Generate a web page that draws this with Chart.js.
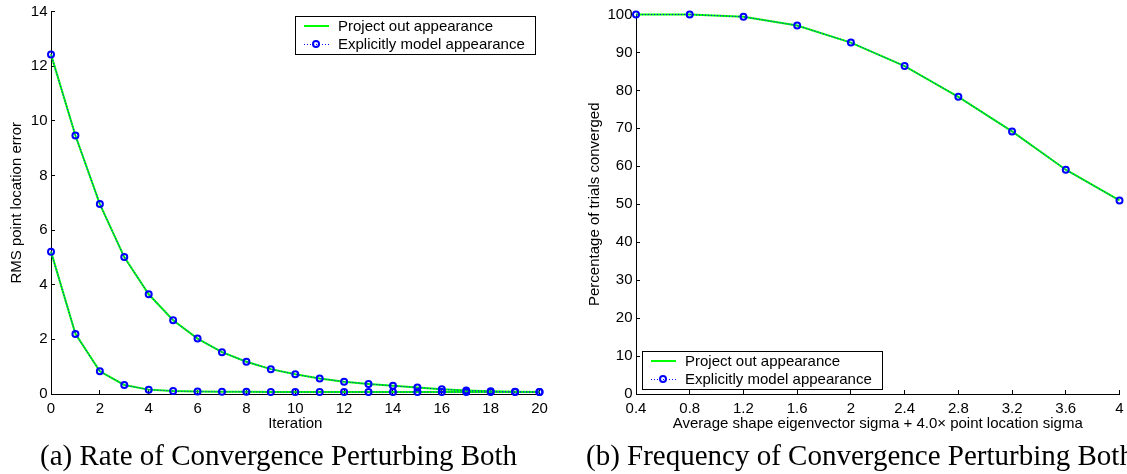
<!DOCTYPE html>
<html>
<head>
<meta charset="utf-8">
<script src="https://cdn.jsdelivr.net/npm/chart.js@4.4.1/dist/chart.umd.min.js"></script>
<style>
  html, body { margin: 0; padding: 0; background: #fff; width: 1127px; height: 474px; overflow: hidden; }
  .wrap { position: absolute; top: 0; height: 440px; }
  #w1 { left: 0; width: 563px; }
  #w2 { left: 563px; width: 564px; }
  .cap { position: absolute; top: 441px; font-family: "Liberation Serif", "Times New Roman", serif; font-size: 29px; line-height: 29px; white-space: nowrap; color: #000; }
</style>
</head>
<body>
<div class="wrap" id="w1"><canvas id="c1" width="563" height="440"></canvas></div>
<div class="wrap" id="w2"><canvas id="c2" width="564" height="440"></canvas></div>
<div class="cap" id="cap1" style="left:40px;"></div>
<div class="cap" id="cap2" style="left:586px;"></div>
<script>
// ---------- data ----------
const seriesLabels = ['Project out appearance', 'Explicitly model appearance'];

// (a) rate of convergence
const iterations = [0, 1, 2, 3, 4, 5, 6, 7, 8, 9, 10, 11, 12, 13, 14, 15, 16, 17, 18, 19, 20];
const rmsProjectOutLarge = [12.43, 9.46, 6.95, 5.01, 3.65, 2.70, 2.03, 1.53, 1.18, 0.91, 0.72, 0.57, 0.45, 0.37, 0.30, 0.24, 0.17, 0.13, 0.10, 0.08, 0.07];
const rmsExplicitLarge   = [12.43, 9.46, 6.95, 5.01, 3.65, 2.70, 2.03, 1.53, 1.18, 0.91, 0.72, 0.57, 0.45, 0.37, 0.30, 0.24, 0.17, 0.13, 0.10, 0.08, 0.07];
const rmsProjectOutSmall = [5.21, 2.20, 0.83, 0.33, 0.16, 0.11, 0.09, 0.08, 0.08, 0.07, 0.07, 0.07, 0.07, 0.07, 0.07, 0.07, 0.07, 0.07, 0.07, 0.07, 0.07];
const rmsExplicitSmall   = [5.21, 2.20, 0.83, 0.33, 0.16, 0.11, 0.09, 0.08, 0.08, 0.07, 0.07, 0.07, 0.07, 0.07, 0.07, 0.07, 0.07, 0.07, 0.07, 0.07, 0.07];

// (b) frequency of convergence
const sigmaValues = [0.4, 0.8, 1.2, 1.6, 2.0, 2.4, 2.8, 3.2, 3.6, 4.0];
const sigmaTickLabels = ['0.4', '0.8', '1.2', '1.6', '2', '2.4', '2.8', '3.2', '3.6', '4'];
const pctProjectOut = [100, 100, 99.4, 97.1, 92.6, 86.4, 78.3, 69.2, 59.1, 51.0];
const pctExplicit   = [100, 100, 99.4, 97.1, 92.6, 86.4, 78.3, 69.2, 59.1, 51.0];

const captionA = '(a) Rate of Convergence Perturbing Both';
const captionB = '(b) Frequency of Convergence Perturbing Both';
const xTitleA = 'Iteration';
const yTitleA = 'RMS point location error';
const xTitleB = 'Average shape eigenvector sigma + 4.0\u00d7 point location sigma';
const yTitleB = 'Percentage of trials converged';

document.getElementById('cap1').textContent = captionA;
document.getElementById('cap2').textContent = captionB;

// ---------- styling ----------
const FONT = '"Liberation Sans", Arial, Helvetica, sans-serif';
Chart.defaults.font.family = FONT;
Chart.defaults.color = '#000';

const GREEN = '#00ff00';
const BLUE = '#0000ff';

function toXY(xs, ys) { return xs.map((x, i) => ({ x: x, y: ys[i] })); }

function greenSet(label, xs, ys) {
  return { label, data: toXY(xs, ys), borderColor: GREEN, borderWidth: 2, pointRadius: 0,
           tension: 0, fill: false, order: 1, clip: false, kind: 'solid' };
}
function blueSet(label, xs, ys) {
  return { label, data: toXY(xs, ys), borderColor: BLUE, borderWidth: 1, borderDash: [1, 2],
           pointRadius: 3, pointBorderWidth: 2, pointBorderColor: BLUE,
           pointBackgroundColor: 'rgba(0,0,0,0)', tension: 0, fill: false, order: 0, clip: false, kind: 'marker' };
}

const insideLegend = {
  id: 'insideLegend',
  afterDraw(chart, args, opts) {
    const { ctx, chartArea } = chart;
    const seen = new Set();
    const items = [];
    chart.data.datasets.forEach(ds => { if (!seen.has(ds.label)) { seen.add(ds.label); items.push(ds); } });
    ctx.save();
    ctx.font = '15px ' + FONT;
    const textW = Math.max(...items.map(d => ctx.measureText(d.label).width));
    const w = Math.round(43 + textW + 10);
    const h = 38;
    let x, y;
    if (opts.corner === 'topright') { x = Math.round(chartArea.right - 5 - w); y = Math.round(chartArea.top + 4); }
    else { x = Math.round(chartArea.left + 6); y = Math.round(chartArea.bottom - 5 - h); }
    ctx.fillStyle = '#fff';
    ctx.fillRect(x, y, w, h);
    ctx.strokeStyle = '#000';
    ctx.lineWidth = 1;
    ctx.strokeRect(x + 0.5, y + 0.5, w, h);
    items.forEach((ds, i) => {
      const cy = y + 10 + i * 18;
      if (ds.kind === 'solid') {
        ctx.strokeStyle = GREEN; ctx.lineWidth = 2; ctx.setLineDash([]);
        ctx.beginPath(); ctx.moveTo(x + 9, cy); ctx.lineTo(x + 34, cy); ctx.stroke();
      } else {
        ctx.strokeStyle = BLUE; ctx.lineWidth = 1; ctx.setLineDash([1, 2]);
        ctx.beginPath(); ctx.moveTo(x + 9, cy + 0.5); ctx.lineTo(x + 34, cy + 0.5); ctx.stroke();
        ctx.setLineDash([]); ctx.lineWidth = 2;
        ctx.beginPath(); ctx.arc(x + 21, cy, 3, 0, Math.PI * 2); ctx.stroke();
      }
      ctx.fillStyle = '#000';
      ctx.textBaseline = 'middle';
      ctx.textAlign = 'left';
      ctx.fillText(ds.label, x + 43, cy + 1);
    });
    ctx.restore();
  }
};

function axisCommon() {
  return {
    type: 'linear',
    border: { display: true, color: '#000', width: 1 },
    grid: { display: true, drawOnChartArea: false, drawTicks: true, tickLength: -4, color: '#000', lineWidth: 1 },
  };
}

function makeChart(canvasId, cfg) {
  return new Chart(document.getElementById(canvasId), {
    type: 'line',
    data: { datasets: cfg.datasets },
    plugins: [insideLegend],
    options: {
      responsive: false,
      animation: false,
      events: [],
      devicePixelRatio: 1,
      layout: { padding: cfg.padding },
      plugins: { legend: { display: false }, tooltip: { enabled: false }, insideLegend: { corner: cfg.corner } },
      scales: {
        x: Object.assign(axisCommon(), {
          position: 'bottom',
          min: cfg.xMin, max: cfg.xMax,
          afterFit: s => { s.height = 46; s.paddingLeft = 0; s.paddingRight = 0; },
          afterBuildTicks: cfg.xTicks ? (s => { s.ticks = cfg.xTicks.map(v => ({ value: v })); }) : undefined,
          ticks: Object.assign({ font: { size: 15 }, padding: 9.7, maxRotation: 0, autoSkip: false }, cfg.xTickOpts || {}),
          title: { display: true, text: cfg.xTitle, font: { size: 15 }, padding: { top: 0, bottom: 7 } }
        }),
        y: Object.assign(axisCommon(), {
          position: 'left',
          min: cfg.yMin, max: cfg.yMax,
          afterFit: s => { s.width = cfg.yWidth; s.paddingTop = 0; s.paddingBottom = 0; },
          ticks: { font: { size: 15 }, padding: 7.5, stepSize: cfg.yStep },
          title: { display: true, text: cfg.yTitle, font: { size: 15 }, padding: { top: cfg.yTitlePad, bottom: 0 } }
        })
      }
    }
  });
}

makeChart('c1', {
  datasets: [
    greenSet(seriesLabels[0], iterations, rmsProjectOutLarge),
    greenSet(seriesLabels[0], iterations, rmsProjectOutSmall),
    blueSet(seriesLabels[1], iterations, rmsExplicitLarge),
    blueSet(seriesLabels[1], iterations, rmsExplicitSmall)
  ],
  padding: { top: 11.5, right: 23.5, left: 0, bottom: 0 },
  corner: 'topright',
  xMin: 0, xMax: 20, xTickOpts: { stepSize: 2 },
  yMin: 0, yMax: 14, yStep: 2,
  yWidth: 51, yTitlePad: 7.5,
  xTitle: xTitleA, yTitle: yTitleA
});

makeChart('c2', {
  datasets: [
    greenSet(seriesLabels[0], sigmaValues, pctProjectOut),
    blueSet(seriesLabels[1], sigmaValues, pctExplicit)
  ],
  padding: { top: 14.5, right: 7.5, left: 0, bottom: 0 },
  corner: 'bottomleft',
  xMin: 0.4, xMax: 4, xTicks: sigmaValues,
  xTickOpts: { callback: (v, i) => sigmaTickLabels[i] },
  yMin: 0, yMax: 100, yStep: 10,
  yWidth: 73, yTitlePad: 22.7,
  xTitle: xTitleB, yTitle: yTitleB
});
</script>
</body>
</html>
